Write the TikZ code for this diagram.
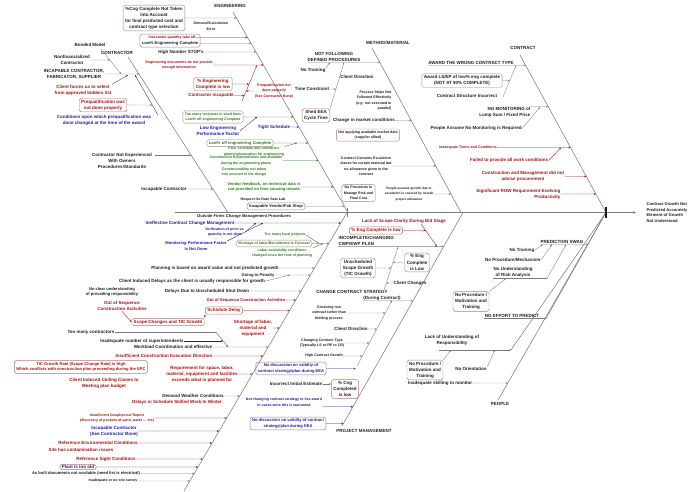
\documentclass[tikz,border=0pt]{standalone}
\usepackage{fontspec}
\setmainfont{Liberation Sans}
\usetikzlibrary{arrows.meta,fit}
\definecolor{cred}{HTML}{A50F0F}
\definecolor{cblue}{HTML}{1E1E9C}
\definecolor{cgreen}{HTML}{2B7A1F}
\definecolor{ctext}{HTML}{1E1E1E}
\definecolor{cbox}{HTML}{B07878}
\definecolor{cgbox}{HTML}{9A8A7A}
\definecolor{cbone}{HTML}{7C7C7C}
\newcommand\hb[3][]{\draw[conn,#1] (#2.east) -- (intersection of #3 and #2.east--#2.west);}
\begin{document}
\begin{tikzpicture}[x=1pt,y=-1pt,
 txt/.style={font=\fontsize{4.5}{6.1}\selectfont\bfseries, text=ctext, inner sep=0.4pt, align=center},
 md/.style={font=\fontsize{4.1}{5.8}\selectfont\bfseries},
 sm/.style={font=\fontsize{3.6}{5.5}\selectfont\bfseries},
 rt/.style={txt,text=cred},
 bt/.style={txt,text=cblue},
 gt/.style={txt,text=cgreen},
 rbox/.style={draw=cbox, rounded corners=1.8pt, line width=0.45pt, inner xsep=2pt, inner ysep=1.6pt},
 gbox/.style={draw=cgbox, rounded corners=1.8pt, line width=0.45pt, inner xsep=2pt, inner ysep=1.6pt},
 bone/.style={draw=cbone, line width=0.55pt},
 conn/.style={color=cbone, line width=0.35pt, -{Stealth[length=2.2pt,width=1.8pt]}},
 plain/.style={color=cbone, line width=0.35pt}]
\useasboundingbox (0,0) rectangle (693,491);
% ---------- bones ----------
\coordinate (ctrA) at (128,57);  \coordinate (ctrB) at (228,212.5);
\coordinate (engA) at (233,12);  \coordinate (engB) at (348,212.5);
\coordinate (mmA) at (372,48);   \coordinate (mmB) at (461,212.5);
\coordinate (conA) at (520,55);
\coordinate (blA) at (184,491);  \coordinate (blB) at (347,212.5);
\coordinate (pmA) at (342,426);  \coordinate (pmB) at (463,212.5);
\coordinate (neA) at (546,318.5);
\coordinate (luA) at (511,350);
\coordinate (peA) at (498,400);
\coordinate (spL) at (175,212.5); \coordinate (spR) at (606,212.5);
\coordinate (arrE) at (636,212.5);
\draw[bone] (spL) -- (spR);
\draw[bone,-{Stealth[length=3pt,width=2.4pt]}] (spR) -- (arrE);
\draw[bone] (ctrA) -- (ctrB);
\draw[bone] (engA) -- (engB);
\draw[bone] (mmA) -- (mmB);
\draw[bone] (conA) -- (spR);
\draw[bone] (blA) -- (blB);
\draw[bone] (pmA) -- (pmB);
\draw[bone] (neA) -- (spR);
\draw[bone] (luA) -- (spR);
\draw[bone] (peA) -- (spR);
\draw[cbone,line width=1pt] (347,208) -- (347,217);
\fill[ctext] (604.8,207) rectangle (607.2,218);
\node[txt,md,align=left,anchor=west] (effect) at (646,212.5) {Contract Growth Not\\Predicted Accurately\\Element of Growth\\Not Understood};
% ---------- CONTRACTOR ----------
\node[txt] (lbctr) at (117,53) {CONTRACTOR};
\node[txt] (bonded) at (90,45) {Bonded Model};
\node[txt] (nonfin) at (72,60) {Nonfinancialized\\Contractor};
\node[txt] (incap) at (74,74) {INCAPABLE CONTRACTOR,\\FABRICATOR, SUPPLIER};
\node[rt] (clientf) at (83,90) {Client forces us to select\\from approved bidders list};
\node[rt,rbox] (prequal) at (103,105) {Prequalification was\\not done properly};
\node[bt] (condup) at (104,120.5) {Conditions upon which prequalification was\\done changed at the time of the award};
\node[txt] (notexp) at (122,161) {Contractor Not Experienced\\With Owners\\Procedures/Standards};
\node[txt] (incapc) at (164,189) {Incapable Contractor};
\coordinate (sbc1) at (101,49); \coordinate (sbc2) at (121,74);
\draw[conn] (sbc1) -- (sbc2);
\draw[conn] (nonfin.east) -- (intersection of sbc1--sbc2 and nonfin.east--nonfin.west);
\hb{incap}{ctrA--ctrB}
\coordinate (cf1) at (128,75);
\draw[conn,cred] (clientf.north east) -- (cf1);
\coordinate (cu1) at (158,115); \coordinate (cu2) at (135,75);
\draw[conn,cblue] (cu1) -- (cu2);
\draw[conn] (prequal.east) -- (intersection of cu1--cu2 and prequal.east--prequal.west);
\coordinate (ne1) at (155,155); \coordinate (ne2) at (191.2,155);
\draw[conn] (ne1) -- (ne2);
\hb{incapc}{ctrA--ctrB}
% ---------- ENGINEERING ----------
\node[txt] (lbeng) at (230,6) {ENGINEERING};
\node[txt,rbox] (boxA) at (154,18) {\%Cng Complete Not Taken\\Into Account\\for final predicted cost and\\contract type selection};
\node[txt,sm] (demand) at (211,26) {Demand/Calculation\\Error};
\hb{boxA}{engA--engB}
\node[rt,sm] (inacc) at (172,37.5) {Inaccurate quantity take off};
\node[txt,md] (loweng) at (170,43.5) {Low\% Engineering Complete};
\node[gbox,fit=(inacc)(loweng),inner sep=1.2pt] (boxB) {};
\hb[cred]{inacc}{engA--engB}
\hb{loweng}{engA--engB}
\node[txt] (highstop) at (181,52) {High Number STOP's};
\hb{highstop}{engA--engB}
\node[rt,sm] (engdoc) at (179,65) {Engineering documents do not provide\\enough information};
\hb[cred]{engdoc}{engA--engB}
\node[rt,rbox] (engcl) at (213,84) {\% Engineering\\Complete is low};
\node[rt] (ctrinc) at (211,95.5) {Contractor incapable};
\coordinate (se1) at (242,101); \coordinate (se2) at (257,65);
\draw[conn,cred] (se1) -- (se2);
\draw[conn,cred] (engcl.east) -- (intersection of se1--se2 and engcl.east--engcl.west);
\draw[conn,cred] (ctrinc.east) -- (intersection of se1--se2 and ctrinc.east--ctrinc.west);
\node[rt,sm] (prenot) at (274,91) {Prequalification not\\done properly\\(See Contractor Bone)};
\draw[conn,cred] (prenot.west) -- (intersection of se1--se2 and prenot.east--prenot.west);
\node[gt,gbox,sm] (revbox) at (213,117) {Too many revisions in shed lines\\Low\% off engineering Complete};
\hb[cgreen]{revbox}{engA--engB}
\node[bt] (lowperf) at (218,131) {Low Engineering\\Performance Factor};
\coordinate (lp1) at (257,117);
\draw[conn,cblue] (lowperf.east) -- (lp1);
\node[bt] (tight) at (274,127) {Tight Schedule};
\hb[cblue]{tight}{engA--engB}
\node[gt,gbox,md] (lowoff) at (240,143) {Low\% off engineering Complete};
\hb[cgreen]{lowoff}{engA--engB}
\node[gt,sm] (poor) at (254,151.5) {Poor schedule and unrealistic\\planning/execution for engineering};
\coordinate (po1) at (297,143);
\draw[conn,cgreen] (poor.north east) -- (po1);
\node[gt,sm] (constr) at (246,160.5) {Construction Representative and available\\during the engineering phase};
\hb[cgreen]{constr}{engA--engB}
\node[gt,sm] (constb) at (244,172) {Constructability not taken\\into account in the design};
\node[gt,md] (vendor) at (264,187) {Vendor feedback, on technical data is\\not provided on time causing rework};
\hb[cgreen]{vendor}{engA--engB}
\node[txt,sm] (respect) at (263,199.5) {Respect for Date Seat Lab};
\node[txt,gbox,md] (incven) at (276,206.3) {Incapable Vendor/Fab Shop};
\hb{incven}{engA--engB}
\node[txt,md] (outside) at (244,216.8) {Outside Firms Change Management Procedures};
% ---------- lower left bone ----------
\node[bt] (ineff) at (190,223) {Ineffective Contract Change Management};
\hb[cblue]{ineff}{blA--blB}
\node[bt,sm] (verif) at (225,232) {Verification of price vs.\\quantity is not done};
\coordinate (vf1) at (256,223);
\draw[conn,cblue] (verif.east) -- (vf1);
\node[bt,md] (monit) at (196,246) {Monitoring Performance Factor\\Is Not Done};
\coordinate (mo1) at (263,223);
\draw[conn,cblue] (monit.north east) -- (mo1);
\node[gt,sm] (toomany) at (285,235) {Too many local projects};
\node[gt,gbox,sm] (short) at (274,243.5) {Shortage of labor/Recruitment is Forecast};
\hb[cgreen]{short}{blA--blB}
\node[gt,sm] (labor) at (282,253) {Labor availability conditions\\changed since the time of planning};
\coordinate (tm1) at (319,243.5); \coordinate (lb1) at (323,243.5);
\draw[conn,cgreen] (toomany.east) -- (tm1);
\draw[conn,cgreen] (labor.north east) -- (lb1);
\node[txt] (plan) at (215,268) {Planning is based on award value and not predicted growth};
\hb{plan}{blA--blB}
\node[txt,md] (going) at (258,275) {Going to Penalty};
\hb{going}{blA--blB}
\node[txt] (clid) at (192,281) {Client Induced Delays as the client is usually responsible for growth};
\coordinate (cg1) at (290,275);
\draw[conn] (clid.east) -- (cg1);
\node[txt] (delays) at (207,291) {Delays Due to Unscheduled Shut Down};
\hb{delays}{blA--blB}
\node[txt,md] (noclear) at (112,292) {No clear understanding\\of prevailing responsibility};
\node[rt] (oos1) at (122,306) {Out of Sequence\\Construction Activities};
\node[rt,md] (oos2) at (246,300) {Out of Sequence Construction Activities};
\hb[cred]{oos2}{blA--blB}
\node[rt,rbox] (sched) at (224,310.5) {Schedule Delay};
\hb[cred]{sched}{blA--blB}
\node[rt,rbox] (scope) at (168,322) {Scope Changes and TIC Growth};
\draw[conn,cred] (scope.north east) -- (sched.south west);
\draw[conn,cred] (oos1.south) -- (scope.west);
\node[rt] (shortlab) at (253,328) {Shortage of labor,\\material and\\equipment};
\hb[cred]{shortlab}{blA--blB}
\node[txt] (toomc) at (91,332) {Too many contractors};
\coordinate (wl1) at (216,332); \coordinate (wl2) at (228,347);
\draw[plain] (toomc.east) -- (wl1);
\draw[conn,cgreen] (wl1) -- (wl2);
\node[txt] (inadeq) at (142,341) {Inadequate number of superintendents};
\coordinate (ia1) at (223,341);
\draw[conn,cblue] (inadeq.east) -- (ia1);
\node[txt] (workl) at (173,347) {Workload Coordination and effective};
\hb{workl}{blA--blB}
\node[rt] (insuf) at (164,356) {Insufficient Construction Execution Direction};
\hb[cred]{insuf}{blA--blB}
\node[rt,rbox,md] (ticbox) at (81,367) {TIC Growth Rate (Scope Change Rate) is High\\Which conflicts with construction plan proceeding during the EPC};
\node[rt] (ceil) at (104,383) {Client Induced Ceiling Comes to\\Meeting plan budget};
\node[rt] (req) at (202,374) {Requirement for space, labor,\\material, equipment and facilities\\exceeds what is planned for};
\hb[cred]{req}{blA--blB}
\node[txt] (demw) at (193,396) {Demand Weather Conditions};
\hb{demw}{blA--blB}
\node[rt] (delw) at (177,402) {Delays in Schedule Skilled Work In Winter};
\node[rt,sm] (geo) at (117,418) {Insufficient Geophysical Report\\(discovery of pockets of sand, water ... etc)};
\hb[cred]{geo}{blA--blB}
\node[bt] (incapc2) at (114,431) {Incapable Contractor\\(See Contractor Bone)};
\hb[cblue]{incapc2}{blA--blB}
\node[rt] (refenv) at (98,443) {Reference Environmental Conditions};
\hb[cred]{refenv}{blA--blB}
\node[rt] (site) at (81,450) {Site has contamination issues};
\node[rt] (refsight) at (106,459) {Reference Sight Conditions};
\hb[cred]{refsight}{blA--blB}
\node[bt,rbox,inner ysep=1pt] (plant) at (78,467) {Plant is too old};
\hb[cblue]{plant}{blA--blB}
\node[txt,md] (asbuilt) at (86,473.5) {As built documents not available (need list is electrical)};
\hb{asbuilt}{blA--blB}
\node[txt,sm] (survey) at (113,481) {Inadequate or no site survey};
\hb{survey}{blA--blB}
% ---------- PROJECT MANAGEMENT ----------
\node[rt] (lack) at (404,221) {Lack of Scope Clarity During Bid Stage};
\node[rt,rbox] (engbox2) at (376,230.5) {\% Eng Complete is low};
\node[txt,align=left,anchor=west] (incomp) at (338,241) {INCOMPLETE/CHANGING\\CWP/EWP PLAN};
\draw[conn] (incomp.south west) -- (intersection of pmA--pmB and incomp.south west--incomp.south east);
\coordinate (lk1) at (421,224); \coordinate (lk2) at (437,246.5);
\draw[conn,cred] (lk1) -- (lk2);
\draw[conn,cred] (engbox2.east) -- (intersection of lk1--lk2 and engbox2.east--engbox2.west);
\node[txt,gbox] (unsch) at (358,268) {Unscheduled\\Scope Growth\\(TIC Growth)};
\node[txt,gbox] (engbox3) at (417,262.5) {\% Eng\\Complete\\is Low};
\node[txt] (clch) at (410,283) {Client Changes};
\coordinate (uc1) at (384,290); \coordinate (uc2) at (398,247);
\draw[conn] (uc1) -- (uc2);
\draw[conn] (unsch.east) -- (intersection of uc1--uc2 and unsch.east--unsch.west);
\draw[conn] (engbox3.west) -- (intersection of uc1--uc2 and engbox3.east--engbox3.west);
\draw[conn] (clch.west) -- (intersection of uc1--uc2 and clch.east--clch.west);
\node[txt] (ccs1) at (352,291.5) {CHANGE CONTRACT STRATEGY};
\node[txt] (ccs2) at (382,298) {(During Contract)};
\draw[conn] (ccs2.south west) -- (intersection of pmA--pmB and ccs2.south west--ccs2.south east);
\coordinate (sb2a) at (357,366); \coordinate (sb2b) at (392,300.5);
\draw[conn] (sb2a) -- (sb2b);
\node[txt,sm] (choose) at (329,313) {Choosing non\\contract rather than\\bidding process};
\draw[conn] (choose.east) -- (intersection of sb2a--sb2b and choose.east--choose.west);
\node[txt] (clientd) at (351,329) {Client Direction};
\draw[conn] (clientd.east) -- (intersection of sb2a--sb2b and clientd.east--clientd.west);
\node[txt,sm] (changing) at (322,343) {Changing Contract Type\\(Typically LS or RP to CR)};
\draw[conn] (changing.east) -- (intersection of sb2a--sb2b and changing.east--changing.west);
\node[txt,sm] (highcg) at (324,356) {High Contract Growth};
\draw[conn] (highcg.east) -- (intersection of sb2a--sb2b and highcg.east--highcg.west);
\node[bt,rbox,md] (nodisc1) at (291,368.5) {No discussion on validity of\\contract strategy/plan during EEA};
\draw[conn,cblue] (nodisc1.east) -- (intersection of sb2a--sb2b and nodisc1.east--nodisc1.west);
\node[txt] (incorr) at (296,384) {Incorrect Initial Estimate};
\node[txt,rbox] (cngbox) at (345,389) {\% Cng\\Completed\\is low};
\draw[conn] (incorr.east) -- (incorr.east -| cngbox.west);
\node[bt,sm] (notchg) at (284,402) {Not changing contract strategy to lies award\\in cases were this is warranted};
\draw[conn,cblue] (notchg.south east) -- (intersection of pmA--pmB and notchg.south east--notchg.south west);
\node[bt,rbox,md] (nodisc2) at (288,423.5) {No discussion on validity of contract\\strategy/plan during EEA};
\hb[cblue]{nodisc2}{pmA--pmB}
\node[txt] (pm) at (364,430.5) {PROJECT MANAGEMENT};
% ---------- METHOD / MATERIAL ----------
\node[txt] (lbmm) at (388,43) {METHOD/MATERIAL};
\node[txt,anchor=south] (nfdp) at (334,62.5) {NOT FOLLOWING\\DEFINED PROCEDURES};
\draw[conn] (nfdp.south west) -- (intersection of mmA--mmB and nfdp.south west--nfdp.south east);
\node[txt] (notr2) at (313,70.5) {No Training};
\coordinate (nt1) at (330,62.5);
\draw[conn] (notr2.north east) -- (nt1);
\node[txt] (clientd2) at (357,77) {Client Direction};
\node[txt] (timec) at (312,89) {Time Constraint};
\node[txt,rbox] (shed) at (316,115.5) {Shed EEA\\Cycle Time};
\coordinate (fd2) at (344,62.5);
\draw[conn] (shed.north east) -- (fd2);
\draw[conn] (timec.east) -- (intersection of shed.north east--fd2 and timec.east--timec.west);
\node[txt,sm,align=right,anchor=east] (process) at (392,100.5) {Process Steps Not\\Followed Effectively\\(e.g. not executed in\\parallel)};
\node[txt] (change) at (364,120.5) {Change in market conditions};
\hb{change}{mmA--mmB}
\node[txt,sm,rbox] (notapp) at (368,135) {Not applying available market data\\(supplier allied)};
\node[txt,sm] (contains) at (366,166) {Contract Contains Escalation\\clause for certain material but\\no allowance given in the\\contract};
\hb{contains}{mmA--mmB}
\node[txt,sm,gbox] (noproc3) at (358.5,193) {No Procedure In\\Manage Risk and\\Final Cost};
\node[txt,font=\fontsize{3.2}{5.4}\selectfont\bfseries] (peopleg) at (409,194) {People assume growth due to\\escalation is covered by overall\\project allowance};
\hb{peopleg}{mmA--mmB}
% ---------- CONTRACT ----------
\node[txt] (lbcon) at (523,48) {CONTRACT};
\node[txt,anchor=south] (award) at (471,65.5) {AWARD THE WRONG CONTRACT TYPE};
\draw[conn] (award.south west) -- (intersection of conA--spR and award.south west--award.south east);
\node[txt,rbox] (awardbox) at (462,80.5) {Award LS/EP of low\% eng complete\\(NOT AT 90\% COMPLETE)};
\node[txt] (cstruct) at (467,95.5) {Contract Structure Incorrect};
\coordinate (cs1) at (503,97); \coordinate (cs2) at (516,65.5);
\draw[conn] (cs1) -- (cs2);
\draw[conn] (awardbox.east) -- (intersection of cs1--cs2 and awardbox.east--awardbox.west);
\node[txt,align=right,anchor=east] (nomon) at (531,112.5) {NO MONITORING of\\Lump Sum / Fixed Price};
\draw[conn] (nomon.north east) -- (intersection of conA--spR and nomon.north east--nomon.north west);
\node[txt] (peopleass) at (476,128.5) {People Assume No Monitoring is Required};
\coordinate (pa1) at (540,107);
\draw[conn] (peopleass.east) -- (pa1);
\node[rt,sm] (inadterms) at (468,147.5) {Inadequate Terms and Conditions};
\hb[cred]{inadterms}{conA--spR}
\node[rt] (failed) at (509,160.5) {Failed to provide all work conditions};
\coordinate (fc1) at (561,147.5);
\draw[conn,cred] (failed.east) -- (fc1);
\node[rt] (constmgmt) at (523,176.5) {Construction and Management did not\\advise procurement};
\hb[cred]{constmgmt}{conA--spR}
\node[rt,align=right,anchor=east] (signif) at (561,194) {Significant ROW Requirement Evolving\\Productivity};
\hb[cred]{signif}{conA--spR}
% ---------- PREDICTION / PEOPLE ----------
\node[txt,anchor=south] (pswag) at (562,244.5) {PREDICTION SWAG};
\draw[conn] (pswag.south west) -- (intersection of neA--spR and pswag.south west--pswag.south east);
\node[txt,anchor=east] (notrain) at (535,250) {No Training};
\coordinate (pw1) at (543,244.5);
\draw[conn] (notrain.east) -- (pw1);
\node[txt,anchor=east] (noproc) at (541,260) {No Procedure/Mechanism};
\coordinate (pw2) at (552,244.5);
\draw[conn] (noproc.east) -- (pw2);
\node[txt,anchor=south] (nounder) at (513,278.5) {No Understanding\\of Risk Analysis};
\coordinate (nu1) at (547,278.5); \coordinate (nu2) at (566,244.5);
\draw[plain] (nounder.south west) -- (nu1);
\draw[conn] (nu1) -- (nu2);
\node[txt,gbox] (noprocbox) at (471,301.5) {No Procedure /\\Motivation and\\Training};
\coordinate (npb1) at (506,278.5);
\draw[conn] (noprocbox.north east) -- (npb1);
\node[txt,anchor=south] (noeff) at (512,318.5) {NO EFFORT TO PREDICT};
\draw[plain] (noeff.south west) -- (neA);
\node[txt] (lackund) at (452,340) {Lack of Understanding of\\Responsibility};
\coordinate (lu0) at (439,350);
\draw[conn] (lu0) -- (luA);
\node[txt,gbox] (npbox2) at (425,370) {No Procedure /\\Motivation and\\Training};
\coordinate (nb1) at (451,350);
\draw[conn] (npbox2.north east) -- (nb1);
\node[txt] (noorient) at (471,369) {No Orientation};
\coordinate (no1) at (495,350);
\draw[conn] (noorient.north east) -- (no1);
\node[txt] (inadsk) at (440,383) {Inadequate skilling to monitor};
\hb{inadsk}{peA--spR}
\node[txt] (people) at (500,404) {PEOPLE};
\end{tikzpicture}
\end{document}
